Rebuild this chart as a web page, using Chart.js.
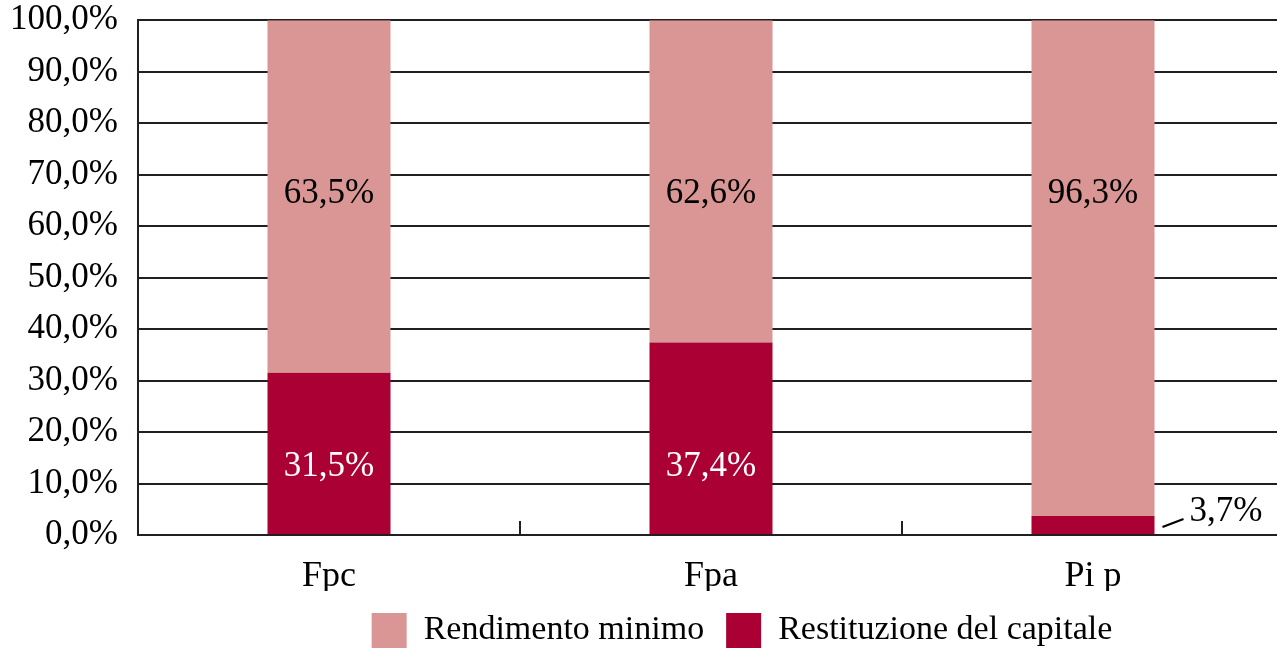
<!DOCTYPE html>
<html>
<head>
<meta charset="utf-8">
<script src="https://cdn.jsdelivr.net/npm/chart.js@4.4.1/dist/chart.umd.min.js"></script>
<style>
  html, body { margin: 0; padding: 0; background: #ffffff; overflow: hidden; }
  #wrap { position: absolute; left: 0; top: 0; width: 1284px; height: 651px; }
</style>
</head>
<body>
<div id="wrap"><canvas id="c"></canvas></div>
<script>
const categories = ['Fpc', 'Fpa', 'Pi p'];
const restituzione = [31.5, 37.4, 3.7];
const rendimento = [68.5, 62.6, 96.3];
const restituzioneLabels = ['31,5%', '37,4%', '3,7%'];
const rendimentoLabels = ['63,5%', '62,6%', '96,3%'];
const yTickLabels = ['0,0%', '10,0%', '20,0%', '30,0%', '40,0%', '50,0%', '60,0%', '70,0%', '80,0%', '90,0%', '100,0%'];

const SERIF = '"Liberation Serif", "DejaVu Serif", serif';
const INK = '#231f20';
const PINK = 'rgb(217,150,148)';
const RED = 'rgb(170,0,51)';

const labelPlugin = {
  id: 'segLabels',
  afterDatasetsDraw(chart) {
    const ctx = chart.ctx;
    const y = chart.scales.y;
    ctx.save();
    ctx.font = '35px ' + SERIF;
    ctx.textAlign = 'center';
    ctx.textBaseline = 'middle';
    chart.data.datasets.forEach((ds, di) => {
      const meta = chart.getDatasetMeta(di);
      meta.data.forEach((bar, i) => {
        const txt = ds.segLabels[i];
        const h = Math.abs(bar.base - bar.y);
        if (h < 40) {
          const x0 = bar.x + bar.width / 2 + 8;
          const yc = (bar.base + bar.y) / 2;
          ctx.strokeStyle = '#000';
          ctx.lineWidth = 2;
          ctx.beginPath();
          ctx.moveTo(x0, yc + 2);
          ctx.lineTo(x0 + 21, yc - 6);
          ctx.stroke();
          ctx.fillStyle = '#000';
          ctx.textAlign = 'left';
          ctx.fillText(txt, x0 + 27, y.getPixelForValue(4.6));
          ctx.textAlign = 'center';
        } else {
          ctx.fillStyle = ds.labelColor;
          ctx.fillText(txt, bar.x, y.getPixelForValue(ds.labelAt));
        }
      });
    });
    ctx.restore();
  }
};

const tickPlugin = {
  id: 'catTicks',
  afterDatasetsDraw(chart) {
    const ctx = chart.ctx;
    const x = chart.scales.x;
    const a = chart.chartArea;
    ctx.save();
    ctx.strokeStyle = INK;
    ctx.lineWidth = 2;
    for (let i = 0; i < categories.length - 1; i++) {
      const px = Math.round((x.getPixelForValue(i) + x.getPixelForValue(i + 1)) / 2);
      ctx.beginPath();
      ctx.moveTo(px, a.bottom);
      ctx.lineTo(px, a.bottom - 14);
      ctx.stroke();
    }
    ctx.beginPath();
    ctx.moveTo(a.left - 1, a.bottom);
    ctx.lineTo(a.right, a.bottom);
    ctx.stroke();
    ctx.restore();
  }
};

// shift the legend toward the right, as in the reference
const legendShift = {
  id: 'legendShift',
  afterLayout(chart) {
    const lg = chart.legend;
    if (lg) { lg.left += 100; lg.right += 100; }
  }
};

new Chart(document.getElementById('c'), {
  type: 'bar',
  data: {
    labels: categories,
    datasets: [
      {
        label: 'Restituzione del capitale',
        data: restituzione,
        backgroundColor: RED,
        segLabels: restituzioneLabels,
        labelColor: '#ffffff',
        labelAt: 13.2
      },
      {
        label: 'Rendimento minimo',
        data: rendimento,
        backgroundColor: PINK,
        segLabels: rendimentoLabels,
        labelColor: '#000000',
        labelAt: 66.2
      }
    ]
  },
  options: {
    responsive: true,
    maintainAspectRatio: false,
    animation: false,
    devicePixelRatio: 1,
    layout: { padding: { top: 0, left: 0, right: 0, bottom: -7 } },
    datasets: { bar: { barPercentage: 0.322, categoryPercentage: 1.0 } },
    scales: {
      x: {
        stacked: true,
        grid: { display: false, drawTicks: false },
        border: { display: false },
        ticks: { color: '#000', font: { family: SERIF, size: 36, lineHeight: 1.1 }, padding: 22 },
        afterFit(s) { s.height = 56; }
      },
      y: {
        stacked: true,
        min: 0,
        max: 100,
        ticks: {
          stepSize: 10,
          color: '#000',
          font: { family: SERIF, size: 35, lineHeight: 1.15 },
          padding: 0,
          callback: (v, i) => yTickLabels[i]
        },
        grid: { color: INK, lineWidth: 2, drawTicks: true, tickLength: 20, tickColor: 'rgba(0,0,0,0)' },
        border: { display: true, color: INK, width: 2 },
        afterFit(s) { s.width = 138; }
      }
    },
    plugins: {
      legend: {
        position: 'bottom',
        reverse: true,
        labels: {
          color: '#000',
          font: { family: SERIF, size: 34 },
          boxWidth: 35,
          boxHeight: 35,
          padding: 22
        }
      },
      tooltip: { enabled: false }
    }
  },
  plugins: [labelPlugin, tickPlugin, legendShift]
});
</script>
</body>
</html>
